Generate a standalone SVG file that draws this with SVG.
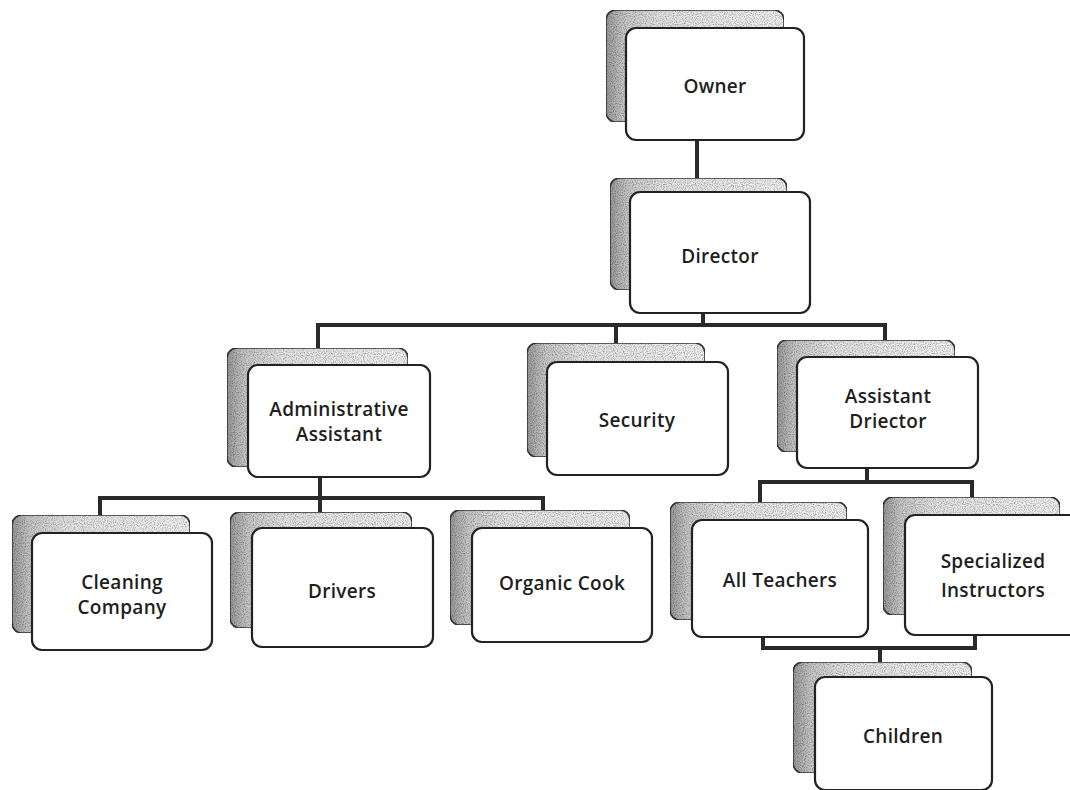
<svg xmlns="http://www.w3.org/2000/svg" width="1070" height="790" viewBox="0 0 1070 790">
  <defs>
    <linearGradient id="shade" x1="0" y1="0" x2="1" y2="0">
      <stop offset="0" stop-color="#9a9a9a"/>
      <stop offset="0.1" stop-color="#c8c8c8"/>
      <stop offset="0.3" stop-color="#e4e4e4"/>
      <stop offset="1" stop-color="#f2f2f2"/>
    </linearGradient>
    <filter id="grain" x="0" y="0" width="1" height="1">
      <feTurbulence type="fractalNoise" baseFrequency="0.9" numOctaves="1" seed="3" result="n"/>
      <feColorMatrix in="n" type="matrix" values="0 0 0 0 0  0 0 0 0 0  0 0 0 0 0  0 0 0 -1.6 0.95" result="dots"/>
      <feComposite in="dots" in2="SourceGraphic" operator="in" result="d2"/>
      <feMerge><feMergeNode in="SourceGraphic"/><feMergeNode in="d2"/></feMerge>
    </filter>
  </defs>
  <style>
    .back { fill: url(#shade); stroke: #3a3a3a; stroke-width: 1.6; filter: url(#grain); }
    .front { fill: #ffffff; stroke: #222; stroke-width: 2.2; }
    .lbl { font-family: "Open Sans", "Liberation Sans", sans-serif; font-size: 19px; font-weight: 600; fill: #1e1e1e; text-anchor: middle; letter-spacing: 0.3px; }
    .conn { fill: none; stroke: #2a2a2a; stroke-width: 4; stroke-linejoin: miter; }
  </style>
  <rect width="1070" height="790" fill="#ffffff"/>

  <g id="connectors">
    <path class="conn" d="M697 140 V180"/>
    <path class="conn" d="M703 313 V325"/>
    <path class="conn" d="M318 348 V325 H885 V340"/>
    <path class="conn" d="M616 325 V343"/>
    <path class="conn" d="M320 477 V512"/>
    <path class="conn" d="M100 515 V498 H543 V510"/>
    <path class="conn" d="M867 468 V482"/>
    <path class="conn" d="M760 502 V482 H972 V497"/>
    <path class="conn" d="M763 637 V648 H975 V635"/>
    <path class="conn" d="M880 648 V662"/>
  </g>

  <g id="owner">
    <rect class="back" x="606" y="10" width="178" height="112" rx="10"/>
    <rect class="front" x="626" y="28" width="178" height="112" rx="10"/>
    <text class="lbl" x="715" y="93">Owner</text>
  </g>
  <g id="director">
    <rect class="back" x="610" y="178" width="177" height="112" rx="10"/>
    <rect class="front" x="630" y="192" width="180" height="121" rx="10"/>
    <text class="lbl" x="720" y="263">Director</text>
  </g>
  <g id="admin-assistant">
    <rect class="back" x="227" y="348" width="181" height="119" rx="10"/>
    <rect class="front" x="248" y="365" width="182" height="112" rx="10"/>
    <text class="lbl" x="339" y="416">Administrative</text>
    <text class="lbl" x="339" y="441">Assistant</text>
  </g>
  <g id="security">
    <rect class="back" x="527" y="343" width="178" height="114" rx="10"/>
    <rect class="front" x="547" y="362" width="181" height="113" rx="10"/>
    <text class="lbl" x="637" y="427">Security</text>
  </g>
  <g id="assistant-director">
    <rect class="back" x="777" y="340" width="178" height="112" rx="10"/>
    <rect class="front" x="797" y="357" width="181" height="111" rx="10"/>
    <text class="lbl" x="888" y="403">Assistant</text>
    <text class="lbl" x="888" y="428">Driector</text>
  </g>
  <g id="cleaning-company">
    <rect class="back" x="12" y="515" width="178" height="118" rx="10"/>
    <rect class="front" x="32" y="533" width="180" height="117" rx="10"/>
    <text class="lbl" x="122" y="589">Cleaning</text>
    <text class="lbl" x="122" y="614">Company</text>
  </g>
  <g id="drivers">
    <rect class="back" x="230" y="512" width="182" height="116" rx="10"/>
    <rect class="front" x="252" y="528" width="181" height="119" rx="10"/>
    <text class="lbl" x="342" y="598">Drivers</text>
  </g>
  <g id="organic-cook">
    <rect class="back" x="450" y="510" width="180" height="115" rx="10"/>
    <rect class="front" x="472" y="528" width="180" height="114" rx="10"/>
    <text class="lbl" x="562" y="590">Organic Cook</text>
  </g>
  <g id="all-teachers">
    <rect class="back" x="670" y="502" width="177" height="118" rx="10"/>
    <rect class="front" x="692" y="520" width="176" height="117" rx="10"/>
    <text class="lbl" x="780" y="587">All Teachers</text>
  </g>
  <g id="specialized-instructors">
    <rect class="back" x="883" y="497" width="177" height="118" rx="10"/>
    <rect class="front" x="905" y="515" width="180" height="120" rx="10"/>
    <text class="lbl" x="993" y="568">Specialized</text>
    <text class="lbl" x="993" y="597">Instructors</text>
  </g>
  <g id="children">
    <rect class="back" x="793" y="662" width="179" height="111" rx="10"/>
    <rect class="front" x="815" y="677" width="177" height="113" rx="10"/>
    <text class="lbl" x="903" y="743">Children</text>
  </g>
</svg>
